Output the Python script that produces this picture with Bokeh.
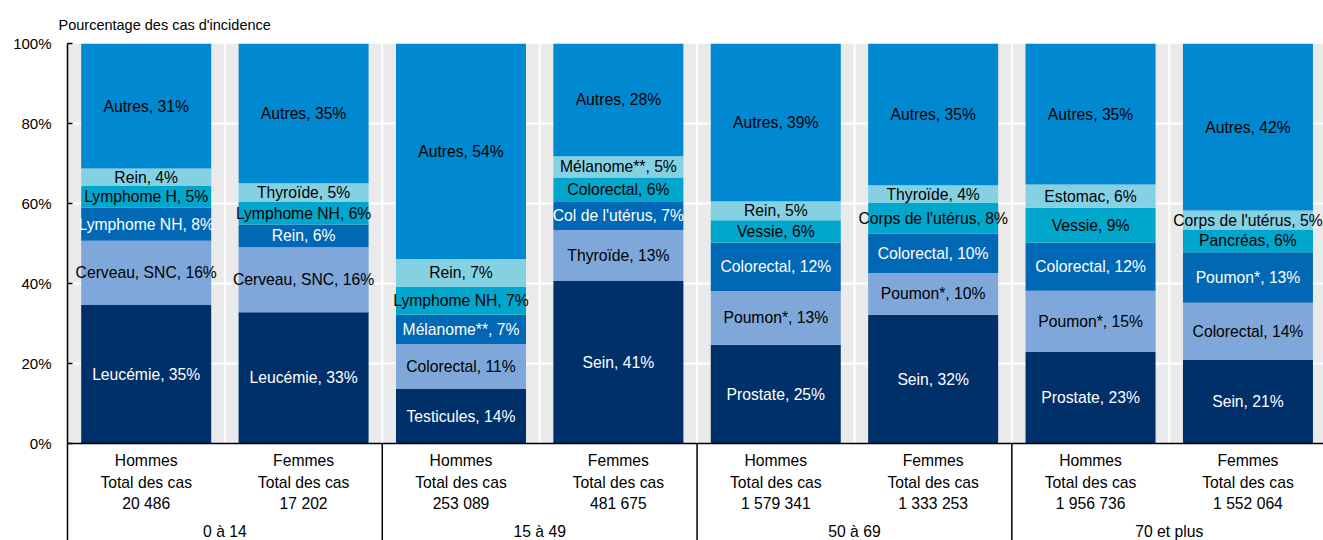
from bokeh.plotting import figure
from bokeh.models import Range1d, FixedTicker, ColumnDataSource
from bokeh.core.properties import value
from bokeh.embed import file_html
from bokeh.resources import INLINE

# ---------------- data ----------------
sexes = ["Hommes", "Femmes", "Hommes", "Femmes", "Hommes", "Femmes", "Hommes", "Femmes"]
totals = ["20 486", "17 202", "253 089", "481 675", "1 579 341", "1 333 253", "1 956 736", "1 552 064"]
age_groups = ["0 à 14", "15 à 49", "50 à 69", "70 et plus"]

# segment names, bottom to top, one list per bar
names = [
    ["Leucémie", "Cerveau, SNC", "Lymphome NH", "Lymphome H", "Rein", "Autres"],
    ["Leucémie", "Cerveau, SNC", "Rein", "Lymphome NH", "Thyroïde", "Autres"],
    ["Testicules", "Colorectal", "Mélanome**", "Lymphome NH", "Rein", "Autres"],
    ["Sein", "Thyroïde", "Col de l'utérus", "Colorectal", "Mélanome**", "Autres"],
    ["Prostate", "Poumon*", "Colorectal", "Vessie", "Rein", "Autres"],
    ["Sein", "Poumon*", "Colorectal", "Corps de l'utérus", "Thyroïde", "Autres"],
    ["Prostate", "Poumon*", "Colorectal", "Vessie", "Estomac", "Autres"],
    ["Sein", "Colorectal", "Poumon*", "Pancréas", "Corps de l'utérus", "Autres"],
]
# shares (%), bottom to top
shares = [
    [34.6, 16.1, 8.25, 5.4, 4.4, 31.25],
    [32.8, 16.25, 5.7, 5.6, 4.7, 35.1],
    [13.6, 11.3, 7.3, 7.0, 6.9, 53.9],
    [40.6, 12.8, 7.0, 6.1, 5.3, 28.2],
    [24.7, 13.4, 12.1, 5.6, 4.75, 39.45],
    [32.2, 10.45, 9.8, 7.7, 4.4, 35.45],
    [22.9, 15.3, 12.0, 8.75, 5.8, 35.25],
    [20.9, 14.3, 12.6, 5.7, 4.75, 41.75],
]
y_ticks = [0, 20, 40, 60, 80, 100]

# ---------------- style ----------------
colors = ["#00306A", "#7FA7D9", "#0068B5", "#00A6CB", "#85D1E4", "#0089D0"]
text_colors = ["white", "black", "white", "black", "black", "black"]
FONT = "Liberation Sans, Arial, sans-serif"
BAR_W = 0.826

p = figure(width=1323, height=540, output_backend="svg", toolbar_location=None,
           x_range=Range1d(0, 7.98), y_range=Range1d(-24.25, 100),
           x_axis_location=None, min_border_left=67, min_border_right=0,
           min_border_top=43, min_border_bottom=0, outline_line_color=None,
           title="Pourcentage des cas d'incidence")
p.xgrid.visible = False
p.ygrid.visible = False

n = len(sexes)
# gray plot background
p.quad(left=[0], right=[n], bottom=[0], top=[100], fill_color="#EAEAEA", line_color=None)
# white grid lines
p.segment(x0=list(range(1, n)), x1=list(range(1, n)), y0=[0] * (n - 1), y1=[100] * (n - 1),
          line_color="white", line_width=2)
gl = [t for t in y_ticks if 0 < t < 100]
p.segment(x0=[0] * len(gl), x1=[n] * len(gl), y0=gl, y1=gl, line_color="white", line_width=2)

# stacked bars
xs, bots, tops, cols, lx, ly, ltxt, lcol = [], [], [], [], [], [], [], []
for i in range(n):
    base = 0.0
    for j, v in enumerate(shares[i]):
        xs.append(i + 0.5)
        bots.append(base)
        tops.append(base + v)
        cols.append(colors[j])
        lx.append(i + 0.5)
        ly.append(base + v / 2)
        ltxt.append(f"{names[i][j]}, {int(v + 0.5)}%")
        lcol.append(text_colors[j])
        base += v

src = ColumnDataSource(dict(x=xs, bottom=bots, top=tops, color=cols))
p.vbar(x="x", bottom="bottom", top="top", width=BAR_W, fill_color="color", line_color=None, source=src)
lsrc = ColumnDataSource(dict(x=lx, y=ly, text=ltxt, color=lcol))
p.text(x="x", y="y", text="text", text_color="color", source=lsrc, text_align="center",
       text_baseline="middle", text_font=value(FONT), text_font_size="15.7px")

# bottom table lines
p.segment(x0=[0], x1=[n], y0=[0], y1=[0], line_color="black", line_width=1.5)
p.segment(x0=[2, 4, 6], x1=[2, 4, 6], y0=[-24.25] * 3, y1=[0] * 3, line_color="black", line_width=1.5)

# bottom table texts
tx, ty, tt = [], [], []
for i in range(n):
    for yy, t in ((-4.25, sexes[i]), (-9.75, "Total des cas"), (-15.0, totals[i])):
        tx.append(i + 0.5); ty.append(yy); tt.append(t)
for g, a in enumerate(age_groups):
    tx.append(2 * g + 1); ty.append(-22.0); tt.append(a)
p.text(x=tx, y=ty, text=tt, text_align="center", text_baseline="middle",
       text_font=value(FONT), text_font_size="15.7px", text_color="black")

# y axis
p.yaxis.ticker = FixedTicker(ticks=y_ticks)
p.yaxis.major_label_overrides = {t: f"{t}%" for t in y_ticks}
p.yaxis.major_label_text_font = FONT
p.yaxis.major_label_text_font_size = "15px"
p.yaxis.major_label_text_color = "black"
p.yaxis.major_tick_in = 5
p.yaxis.major_tick_out = 0
p.yaxis.minor_tick_line_color = None
p.yaxis.major_tick_line_color = "black"
p.yaxis.major_tick_line_width = 1.5
p.yaxis.axis_line_color = "black"
p.yaxis.axis_line_width = 1.5
p.yaxis.major_label_standoff = 16

# title
p.title.text_font = FONT
p.title.text_font_size = "14.5px"
p.title.text_font_style = "normal"
p.title.text_color = "black"
p.title.align = "left"
p.title.offset = -9
p.title.standoff = 21

open("out.html", "w").write(file_html(p, INLINE))
